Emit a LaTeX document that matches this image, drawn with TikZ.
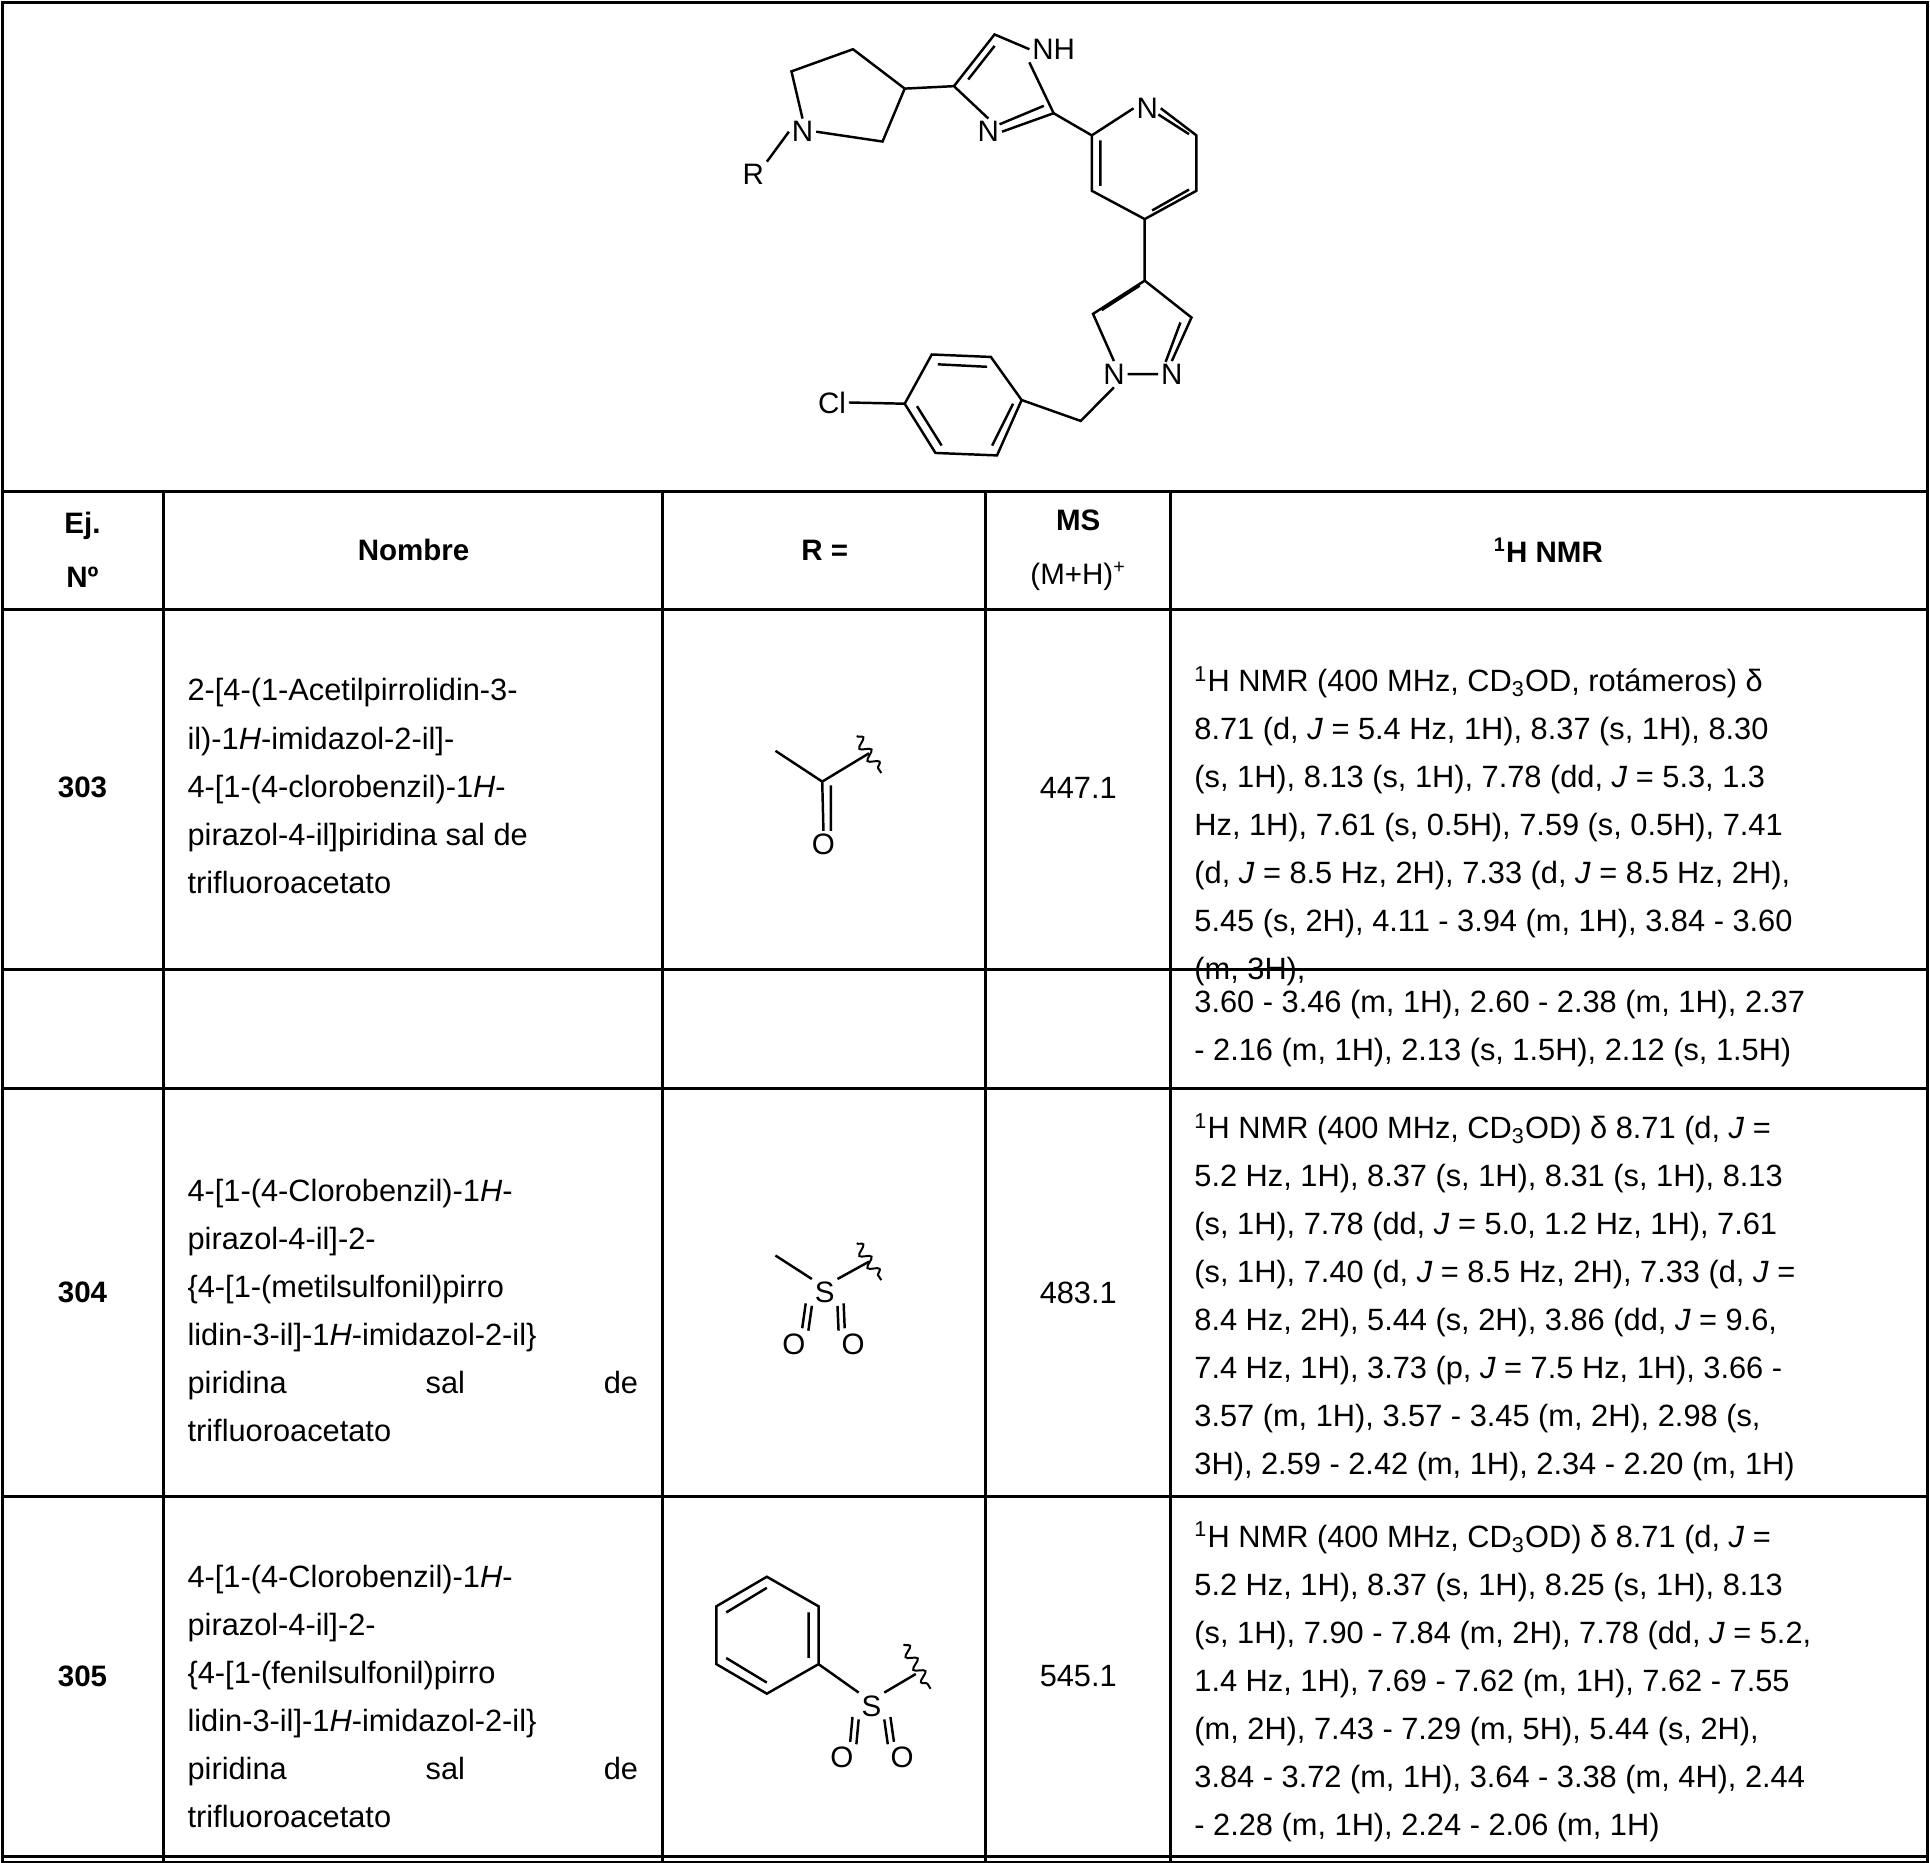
\documentclass[tikz,border=0pt]{standalone}
\usepackage{fontspec}
\setmainfont{Liberation Sans}
\usetikzlibrary{decorations.pathmorphing,calc}
\newcommand{\jline}{\leavevmode\hbox to 183pt{piridina\hfill sal\hfill de}}
\begin{document}
\begin{tikzpicture}[x=0.5pt,y=-0.5pt,
  grid/.style={line width=1.2pt},
  bond/.style={line width=1pt},
  atom/.style={inner sep=1pt,font=\fontsize{12}{14}\selectfont},
  txt/.style={inner sep=0pt,anchor=north west,align=left,font=\fontsize{12.5}{19.5}\selectfont},
  hdr/.style={inner sep=0pt,align=center,font=\bfseries\fontsize{12}{22}\selectfont},
  wav/.style={line width=0.8pt,decorate,decoration={snake,amplitude=2pt,segment length=6pt}}]
\useasboundingbox (0,0) rectangle (1568,1513);
% grid
\draw[grid] (2,2) rectangle (1566,1513);
\draw[grid] (2,399)--(1566,399) (2,495)--(1566,495) (2,788)--(1566,788) (2,884)--(1566,884) (2,1216)--(1566,1216) (2,1508)--(1566,1508);
\foreach \x in {133,538,801,951} \draw[grid] (\x,399)--(\x,1513);
% ===== main structure =====
\node[atom] (R) at (612,142) {R};
\node[atom] (N1) at (652,107) {N};
\coordinate (p2) at (643,58); \coordinate (p3) at (693,40); \coordinate (p4) at (735,72); \coordinate (p5) at (717,115);
\draw[bond] (R.north east)--(N1.west) (N1.north)--(p2)--(p3)--(p4)--(p5)--(N1.east);
\coordinate (i4) at (775,70); \coordinate (i5) at (808,28);
\node[atom] (iN1) at (856,40) {NH};
\node[atom] (iN3) at (803,107) {N};
\coordinate (i2) at (856,92);
\draw[bond] (p4)--(i4)--(i5)--(iN1.west) (iN1.south west)--(i2)--(iN3.east) (iN3.north)--(i4);
\draw[bond] ($(i4)!0.2!(i5)+(5,3)$)--($(i4)!0.85!(i5)+(5,3)$);
\draw[bond] ($(i2)+(-8,-6)$)--($(iN3.east)+(-2,-6)$);
\node[atom] (pN) at (932,88) {N};
\coordinate (c2) at (887,110); \coordinate (c6) at (972,110); \coordinate (c5) at (972,155);
\coordinate (c4) at (930,178); \coordinate (c3) at (887,155);
\draw[bond] (i2)--(c2)--(pN.west) (pN.east)--(c6)--(c5)--(c4)--(c3)--(c2);
\draw[bond] (894,114)--(894,151) (936,171)--(966,154) ($(c6)+(-6,-1)$)--($(pN.east)+(-2,5)$);
\coordinate (z4) at (930,228); \coordinate (z3) at (968,258); \coordinate (z5) at (888,255);
\node[atom] (zN2) at (952,304) {N};
\node[atom] (zN1) at (905,304) {N};
\draw[bond] (c4)--(z4)--(z3)--(zN2.north) (zN2.west)--(zN1.east) (zN1.north)--(z5)--(z4);
\draw[bond] (959,262)--(947,294) (895,252)--(926,232);
\coordinate (ch2) at (878,342);
\coordinate (b1) at (830,325); \coordinate (b2) at (805,290); \coordinate (b3) at (757,288);
\coordinate (b4) at (735,328); \coordinate (b5) at (760,368); \coordinate (b6) at (810,370);
\node[atom] (Cl) at (676,327) {Cl};
\draw[bond] (zN1.south)--(ch2)--(b1)--(b2)--(b3)--(b4)--(b5)--(b6)--(b1) (Cl.east)--(b4);
\draw[bond] (802,298)--(762,296) (745,330)--(765,362) (806,362)--(823,328);
% ===== header =====
\node[hdr] at (67,447) {Ej.\\Nº};
\node[hdr] at (336,447) {Nombre};
\node[hdr] at (670,447) {R =};
\node[hdr,font=\fontsize{12}{22}\selectfont] at (876,447) {\textbf{MS}\\(M+H)\textsuperscript{+}};
\node[hdr] at (1258,447) {\textsuperscript{1}H NMR};
% ===== row numbers =====
\node[hdr] at (67,640) {303};
\node[hdr] at (67,1050) {304};
\node[hdr] at (67,1362) {305};
\node[inner sep=0pt,font=\fontsize{12.5}{15}\selectfont] at (876,640) {447.1};
\node[inner sep=0pt,font=\fontsize{12.5}{15}\selectfont] at (876,1050) {483.1};
\node[inner sep=0pt,font=\fontsize{12.5}{15}\selectfont] at (876,1362) {545.1};
% names
\node[txt] at (152,551) {2-[4-(1-Acetilpirrolidin-3-\\il)-1\textit{H}-imidazol-2-il]-\\4-[1-(4-clorobenzil)-1\textit{H}-\\pirazol-4-il]piridina sal de\\trifluoroacetato};
\node[txt,text width=183pt] at (152,958) {4-[1-(4-Clorobenzil)-1\textit{H}-\\pirazol-4-il]-2-\\\{4-[1-(metilsulfonil)pirro\\lidin-3-il]-1\textit{H}-imidazol-2-il\}\\\jline\\trifluoroacetato};
\node[txt,text width=183pt] at (152,1271) {4-[1-(4-Clorobenzil)-1\textit{H}-\\pirazol-4-il]-2-\\\{4-[1-(fenilsulfonil)pirro\\lidin-3-il]-1\textit{H}-imidazol-2-il\}\\\jline\\trifluoroacetato};
% NMR
\node[txt] at (970,541) {\textsuperscript{1}H NMR (400 MHz, CD\textsubscript{3}OD, rotámeros) δ\\8.71 (d, \textit{J} = 5.4 Hz, 1H), 8.37 (s, 1H), 8.30\\(s, 1H), 8.13 (s, 1H), 7.78 (dd, \textit{J} = 5.3, 1.3\\Hz, 1H), 7.61 (s, 0.5H), 7.59 (s, 0.5H), 7.41\\(d, \textit{J} = 8.5 Hz, 2H), 7.33 (d, \textit{J} = 8.5 Hz, 2H),\\5.45 (s, 2H), 4.11 - 3.94 (m, 1H), 3.84 - 3.60\\(m, 3H),};
\node[txt] at (970,804) {3.60 - 3.46 (m, 1H), 2.60 - 2.38 (m, 1H), 2.37\\- 2.16 (m, 1H), 2.13 (s, 1.5H), 2.12 (s, 1.5H)};
\node[txt] at (970,904) {\textsuperscript{1}H NMR (400 MHz, CD\textsubscript{3}OD) δ 8.71 (d, \textit{J} =\\5.2 Hz, 1H), 8.37 (s, 1H), 8.31 (s, 1H), 8.13\\(s, 1H), 7.78 (dd, \textit{J} = 5.0, 1.2 Hz, 1H), 7.61\\(s, 1H), 7.40 (d, \textit{J} = 8.5 Hz, 2H), 7.33 (d, \textit{J} =\\8.4 Hz, 2H), 5.44 (s, 2H), 3.86 (dd, \textit{J} = 9.6,\\7.4 Hz, 1H), 3.73 (p, \textit{J} = 7.5 Hz, 1H), 3.66 -\\3.57 (m, 1H), 3.57 - 3.45 (m, 2H), 2.98 (s,\\3H), 2.59 - 2.42 (m, 1H), 2.34 - 2.20 (m, 1H)};
\node[txt] at (970,1236) {\textsuperscript{1}H NMR (400 MHz, CD\textsubscript{3}OD) δ 8.71 (d, \textit{J} =\\5.2 Hz, 1H), 8.37 (s, 1H), 8.25 (s, 1H), 8.13\\(s, 1H), 7.90 - 7.84 (m, 2H), 7.78 (dd, \textit{J} = 5.2,\\1.4 Hz, 1H), 7.69 - 7.62 (m, 1H), 7.62 - 7.55\\(m, 2H), 7.43 - 7.29 (m, 5H), 5.44 (s, 2H),\\3.84 - 3.72 (m, 1H), 3.64 - 3.38 (m, 4H), 2.44\\- 2.28 (m, 1H), 2.24 - 2.06 (m, 1H)};
% ===== R groups =====
\coordinate (a1) at (630,610); \coordinate (a2) at (668,635); \coordinate (a3) at (706,612);
\node[atom] (aO) at (669,686) {O};
\draw[bond] (a1)--(a2)--(a3) (a2)--(aO.north) (675,638)--($(aO.north)+(6,0)$);
\draw[wav] (696,598)--(716,628);
\coordinate (m1) at (630,1020); \node[atom] (mS) at (670,1050) {S};
\coordinate (m3) at (706,1025);
\node[atom] (mO1) at (645,1092) {O}; \node[atom] (mO2) at (693,1092) {O};
\draw[bond] (m1)--(mS.north west) (mS.north east)--(m3) (mS.south west)--(mO1.north east) (mS.south east)--(mO2.north west);
\draw[bond] ($(mS.south west)+(-5,-2)$)--($(mO1.north east)+(-5,-2)$) ($(mS.south east)+(5,-2)$)--($(mO2.north west)+(5,-2)$);
\draw[wav] (696,1010)--(716,1040);
\coordinate (ph1) at (665,1305); \coordinate (ph2) at (665,1352); \coordinate (ph3) at (623,1376);
\coordinate (ph4) at (582,1352); \coordinate (ph5) at (582,1305); \coordinate (ph6) at (623,1281);
\draw[bond] (ph1)--(ph2)--(ph3)--(ph4)--(ph5)--(ph6)--cycle;
\draw[bond] (657,1310)--(657,1347) (590,1310)--(623,1290) (590,1347)--(623,1367);
\node[atom] (sS) at (708,1386) {S};
\coordinate (s3) at (744,1360);
\node[atom] (sO1) at (684,1428) {O}; \node[atom] (sO2) at (733,1428) {O};
\draw[bond] (ph2)--(sS.north west) (sS.north east)--(s3) (sS.south west)--(sO1.north east) (sS.south east)--(sO2.north west);
\draw[bond] ($(sS.south west)+(-5,-2)$)--($(sO1.north east)+(-5,-2)$) ($(sS.south east)+(5,-2)$)--($(sO2.north west)+(5,-2)$);
\draw[wav] (734,1336)--(756,1372);
\end{tikzpicture}
\end{document}
